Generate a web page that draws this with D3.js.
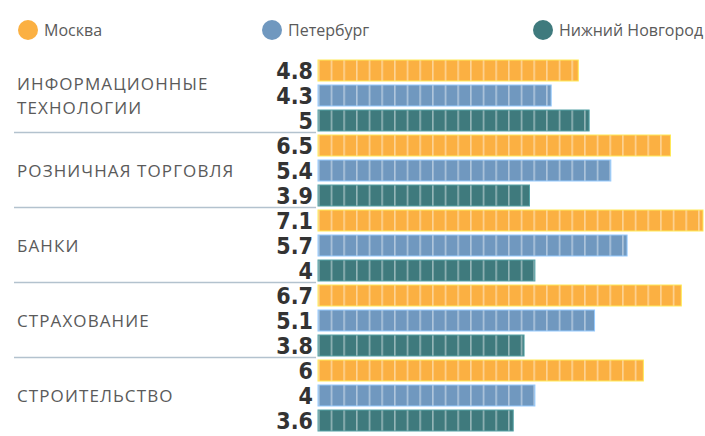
<!DOCTYPE html>
<html>
<head>
<meta charset="utf-8">
<title>Bars</title>
<style>
	body { margin: 0; background: #fff; }
	svg { display: block; }
	.cat { font-family: "Open Sans", sans-serif; font-size: 17px; fill: #5a5a5a; letter-spacing: 1.1px; }
	.val { font-family: "DejaVu Sans Condensed", "DejaVu Sans", sans-serif; font-weight: bold; font-size: 23px; fill: #333; }
	.leg { font-family: "Open Sans", sans-serif; font-size: 16px; fill: #5a5a5a; }
</style>
</head>
<body>
<svg width="705" height="436"></svg>
<script src="https://cdn.jsdelivr.net/npm/d3@7"></script>
<script>
// data
const categories = [["ИНФОРМАЦИОННЫЕ", "ТЕХНОЛОГИИ"], ["РОЗНИЧНАЯ ТОРГОВЛЯ"], ["БАНКИ"], ["СТРАХОВАНИЕ"], ["СТРОИТЕЛЬСТВО"]]
const cities = ["Москва", "Петербург", "Нижний Новгород"]
const moscow = [4.8, 6.5, 7.1, 6.7, 6]
const peter = [4.3, 5.4, 5.7, 5.1, 4]
const nnov = [5, 3.9, 4, 3.8, 3.6]
const colors = ["#fbb042", "#7098bf", "#3f7a7d"]

const series = [moscow, peter, nnov]
let rows = []
categories.forEach((c, i) => {
	series.forEach((s, j) => rows.push({ cat: i, city: j, v: s[i] }))
})

const svg = d3.select("svg")

// scales
const x = d3.scaleLinear().domain([0, 7.1]).range([318, 703])
const y = d3.scaleBand().domain(d3.range(rows.length)).range([58, 433]).paddingInner(0.16).paddingOuter(0.08)
const col = d3.scaleOrdinal().domain(d3.range(3)).range(colors)

// segment patterns
const defs = svg.append("defs")
colors.forEach((c, j) => {
	let p = defs.append("pattern").attr("id", "seg" + j)
		.attr("patternUnits", "userSpaceOnUse")
		.attr("x", 318).attr("width", 12.67).attr("height", 40)
	p.append("rect").attr("width", 12.67).attr("height", 40).attr("fill", c)
	p.append("rect").attr("width", 1.6).attr("height", 40).attr("fill", "#fff").attr("opacity", 0.45)
})

// bars
svg.selectAll("rect.bar").data(rows).enter().append("rect")
	.attr("class", "bar")
	.attr("x", x(0))
	.attr("y", (d, i) => y(i))
	.attr("width", d => x(d.v) - x(0))
	.attr("height", y.bandwidth())
	.attr("fill", d => "url(#seg" + d.city + ")")
	.attr("stroke", d => d3.color(col(d.city)).brighter(0.8))
	.attr("stroke-width", 1)

// value labels
svg.selectAll("text.val").data(rows).enter().append("text")
	.attr("class", "val")
	.attr("x", 313)
	.attr("y", (d, i) => y(i) + y.bandwidth() / 2)
	.attr("dy", "0.36em")
	.attr("text-anchor", "end")
	.text(d => d.v)

// category labels & separators
categories.forEach((c, i) => {
	let cy = y(i * 3) + (y(i * 3 + 2) + y.bandwidth() - y(i * 3)) / 2
	let t = svg.append("text").attr("class", "cat").attr("x", 17)
		.attr("y", cy - (c.length - 1) * 12)
	c.forEach((line, k) => t.append("tspan").attr("x", 17).attr("dy", k == 0 ? "0.36em" : 24).text(line))
	if (i < categories.length - 1) {
		let ly = y(i * 3 + 2) + y.bandwidth() + 1.5
		svg.append("line").attr("x1", 14).attr("x2", 316)
			.attr("y1", ly).attr("y2", ly)
			.attr("stroke", "#b3c2ce").attr("stroke-width", 1.5)
	}
})

// legend
const legX = [28, 272, 543]
const leg = svg.selectAll("g.leg").data(cities).enter().append("g")
	.attr("transform", (d, i) => `translate(${legX[i]},30)`)
leg.append("circle").attr("r", 10).attr("fill", (d, i) => colors[i])
leg.append("text").attr("class", "leg").attr("x", 16).attr("dy", "0.36em").text(d => d)
</script>
</body>
</html>
